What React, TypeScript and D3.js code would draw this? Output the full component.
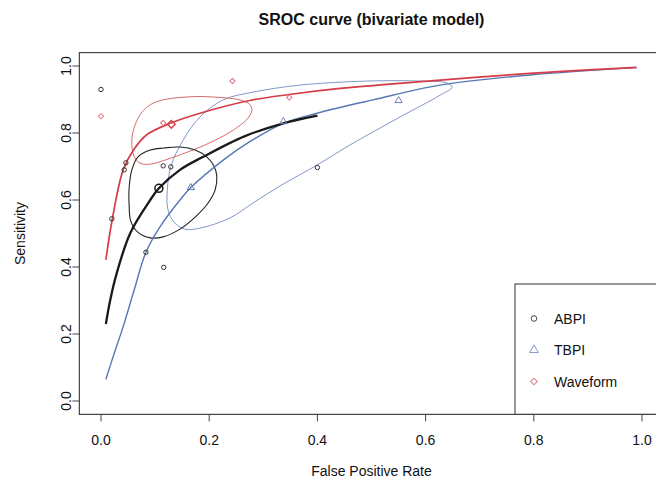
import React from 'react';
import * as d3 from 'd3';

const xTicks = [0, 0.2, 0.4, 0.6, 0.8, 1.0];
const yTicks = [0, 0.2, 0.4, 0.6, 0.8, 1.0];

// study points (fpr, sensitivity)
const abpiFpr = [0.0, 0.02, 0.043, 0.046, 0.083, 0.115, 0.116, 0.129, 0.4];
const abpiSens = [0.93, 0.544, 0.69, 0.711, 0.444, 0.702, 0.399, 0.699, 0.697];
const tbpiFpr = [0.337, 0.55];
const tbpiSens = [0.834, 0.897];
const waveFpr = [0.0, 0.115, 0.243, 0.348];
const waveSens = [0.85, 0.83, 0.955, 0.906];

// summary points: ABPI, TBPI, Waveform
const summaryFpr = [0.107, 0.166, 0.13];
const summarySens = [0.635, 0.637, 0.826];

// SROC curves
const abpiCurveFpr = [0.009, 0.017, 0.029, 0.054, 0.091, 0.107, 0.146, 0.189, 0.265, 0.337, 0.4];
const abpiCurveSens = [0.23, 0.301, 0.381, 0.501, 0.6, 0.635, 0.69, 0.729, 0.79, 0.829, 0.852];
const tbpiCurveFpr = [0.009, 0.025, 0.041, 0.062, 0.083, 0.109, 0.146, 0.166, 0.226, 0.275, 0.337, 0.399, 0.503, 0.627, 0.793, 0.99];
const tbpiCurveSens = [0.065, 0.145, 0.222, 0.335, 0.444, 0.52, 0.6, 0.637, 0.719, 0.774, 0.829, 0.859, 0.899, 0.943, 0.973, 0.995];
const waveCurveFpr = [0.009, 0.021, 0.041, 0.06, 0.084, 0.128, 0.183, 0.275, 0.348, 0.442, 0.627, 0.793, 0.99];
const waveCurveSens = [0.421, 0.544, 0.69, 0.749, 0.794, 0.829, 0.859, 0.897, 0.915, 0.933, 0.958, 0.978, 0.996];

// confidence regions
const abpiEllFpr = [0.115, 0.146, 0.174, 0.196, 0.209, 0.214, 0.211, 0.198, 0.176, 0.146, 0.115, 0.091, 0.068, 0.055, 0.052, 0.052, 0.057, 0.068, 0.091];
const abpiEllSens = [0.755, 0.758, 0.749, 0.728, 0.701, 0.672, 0.63, 0.591, 0.552, 0.513, 0.49, 0.487, 0.504, 0.537, 0.585, 0.636, 0.69, 0.728, 0.749];
const tbpiEllFpr = [0.122, 0.129, 0.152, 0.183, 0.226, 0.281, 0.368, 0.492, 0.59, 0.64, 0.649, 0.627, 0.553, 0.46, 0.399, 0.331, 0.281, 0.238, 0.183, 0.155, 0.135, 0.124];
const tbpiEllSens = [0.609, 0.699, 0.779, 0.848, 0.899, 0.922, 0.943, 0.955, 0.955, 0.949, 0.937, 0.913, 0.848, 0.764, 0.704, 0.642, 0.591, 0.546, 0.516, 0.513, 0.534, 0.57];
const waveEllFpr = [0.057, 0.063, 0.076, 0.094, 0.118, 0.146, 0.183, 0.22, 0.253, 0.274, 0.279, 0.272, 0.253, 0.226, 0.192, 0.155, 0.118, 0.091, 0.072, 0.061];
const waveEllSens = [0.779, 0.824, 0.863, 0.887, 0.9, 0.906, 0.909, 0.906, 0.9, 0.887, 0.869, 0.845, 0.818, 0.791, 0.764, 0.74, 0.719, 0.707, 0.71, 0.731];

const legendLabels = ['ABPI', 'TBPI', 'Waveform'];

const W = 656;
const H = 480;
const FONT = '"Liberation Sans", Arial, Helvetica, sans-serif';

const zip = (a: number[], b: number[]) => a.map((v, i) => [v, b[i]] as [number, number]);

export default function App() {
  const x = d3.scaleLinear().domain([0, 1]).range([101, 642]);
  const y = d3.scaleLinear().domain([0, 1]).range([401, 66]);
  const left = x(-0.04);
  const right = x(1.04);
  const top = y(1.04);
  const bottom = y(-0.04);

  const line = d3.line<[number, number]>().x((d) => x(d[0])).y((d) => y(d[1])).curve(d3.curveCatmullRom);
  const closed = d3.line<[number, number]>().x((d) => x(d[0])).y((d) => y(d[1])).curve(d3.curveCatmullRomClosed);

  const tri = d3.symbol(d3.symbolTriangle, 22)()!;
  const triLeg = d3.symbol(d3.symbolTriangle, 34)()!;
  const sq = d3.symbol(d3.symbolSquare, 14)()!;
  const sqBig = d3.symbol(d3.symbolSquare, 30)()!;
  const sqLeg = d3.symbol(d3.symbolSquare, 22)()!;

  const black = '#1a1a1a';
  const blue = '#5877b3';
  const red = '#d43d47';

  return (
    <svg width={W} height={H} style={{ position: 'absolute', left: 0, top: 0, background: '#fff' }} fontFamily={FONT}>
      <text x={(left + right) / 2} y={25} textAnchor="middle" fontWeight="bold" fontSize={16} fill="#111">
        SROC curve (bivariate model)
      </text>

      {/* confidence regions */}
      <path d={closed(zip(tbpiEllFpr, tbpiEllSens))!} fill="none" stroke="#8198c6" strokeWidth={1} />
      <path d={closed(zip(waveEllFpr, waveEllSens))!} fill="none" stroke="#d66c6c" strokeWidth={1} />
      <path d={closed(zip(abpiEllFpr, abpiEllSens))!} fill="none" stroke="#222" strokeWidth={1.1} />

      {/* SROC curves */}
      <path d={line(zip(tbpiCurveFpr, tbpiCurveSens))!} fill="none" stroke={blue} strokeWidth={1.4} />
      <path d={line(zip(waveCurveFpr, waveCurveSens))!} fill="none" stroke={red} strokeWidth={1.7} />
      <path d={line(zip(abpiCurveFpr, abpiCurveSens))!} fill="none" stroke={black} strokeWidth={2.3} />

      {/* study points */}
      {abpiFpr.map((f, i) => (
        <circle key={'a' + i} cx={x(f)} cy={y(abpiSens[i])} r={2.2} fill="none" stroke="#333" strokeWidth={1} />
      ))}
      {tbpiFpr.map((f, i) => (
        <path key={'t' + i} d={tri} transform={`translate(${x(f)},${y(tbpiSens[i])})`} fill="none" stroke="#6d83bd" strokeWidth={1} />
      ))}
      {waveFpr.map((f, i) => (
        <path key={'w' + i} d={sq} transform={`translate(${x(f)},${y(waveSens[i])}) rotate(45)`} fill="none" stroke="#e07585" strokeWidth={1} />
      ))}

      {/* summary points */}
      <circle cx={x(summaryFpr[0])} cy={y(summarySens[0])} r={4} fill="none" stroke={black} strokeWidth={1.5} />
      <path d={tri} transform={`translate(${x(summaryFpr[1])},${y(summarySens[1])})`} fill="none" stroke={blue} strokeWidth={1} />
      <path d={sqBig} transform={`translate(${x(summaryFpr[2])},${y(summarySens[2])}) rotate(45)`} fill="none" stroke={red} strokeWidth={1.4} />

      {/* legend */}
      <rect x={515} y={284} width={right - 515 + 5} height={bottom - 284} fill="#fff" stroke="#333" strokeWidth={1} />
      {legendLabels.map((lab, i) => {
        const cy = 318.5 + i * 31.5;
        return (
          <g key={lab}>
            {i === 0 && <circle cx={534} cy={cy} r={2.8} fill="none" stroke="#444" strokeWidth={1} />}
            {i === 1 && <path d={triLeg} transform={`translate(534,${cy})`} fill="none" stroke="#8898cc" strokeWidth={1} />}
            {i === 2 && <path d={sqLeg} transform={`translate(534,${cy}) rotate(45)`} fill="none" stroke="#e07d8c" strokeWidth={1} />}
            <text x={554} y={cy} dy="0.36em" fontSize={14} fill="#111">{lab}</text>
          </g>
        );
      })}

      {/* box */}
      <rect x={left} y={top} width={right - left} height={bottom - top} fill="none" stroke="#444" strokeWidth={1.2} />

      {/* x axis */}
      {xTicks.map((t) => (
        <g key={'x' + t}>
          <line x1={x(t)} x2={x(t)} y1={bottom} y2={bottom + 7} stroke="#444" />
          <text x={x(t)} y={445} textAnchor="middle" fontSize={14} fill="#111">{t.toFixed(1)}</text>
        </g>
      ))}
      <text x={(left + right) / 2} y={476} textAnchor="middle" fontSize={14} fill="#111">False Positive Rate</text>

      {/* y axis */}
      {yTicks.map((t) => (
        <g key={'y' + t}>
          <line x1={left} x2={left - 7} y1={y(t)} y2={y(t)} stroke="#444" />
          <text transform={`translate(66,${y(t)}) rotate(-90)`} dy="0.35em" textAnchor="middle" fontSize={14} fill="#111">
            {t.toFixed(1)}
          </text>
        </g>
      ))}
      <text transform={`translate(20,${(top + bottom) / 2}) rotate(-90)`} dy="0.35em" textAnchor="middle" fontSize={14} fill="#111">
        Sensitivity
      </text>
    </svg>
  );
}
